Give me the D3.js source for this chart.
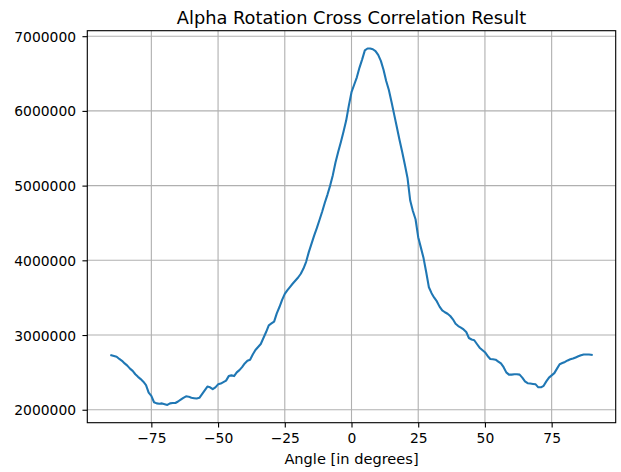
<!DOCTYPE html>
<html>
<head>
<meta charset="utf-8">
<script src="https://cdn.jsdelivr.net/npm/d3@7"></script>
<style>
  body { margin: 0; background: #fff; }
  text { font-family: "DejaVu Sans", sans-serif; fill: #000; }
</style>
</head>
<body>
<div id="chart"></div>
<script>
// angle (degrees) and cross correlation value
var angles = [-90,-89,-88,-87,-86,-85,-84,-83,-82,-81,
  -80,-79,-78,-77,-76,-75,-74,-73,-72,-71,
  -70,-69,-68,-67,-66,-65,-64,-63,-62,-61,
  -60,-59,-58,-57,-56,-55,-54,-53,-52,-51,
  -50,-49,-48,-47,-46,-45,-44,-43,-42,-41,
  -40,-39,-38,-37,-36,-35,-34,-33,-32,-31,
  -30,-29,-28,-27,-26,-25,-24,-23,-22,-21,
  -20,-19,-18,-17,-16,-15,-14,-13,-12,-11,
  -10,-9,-8,-7,-6,-5,-4,-3,-2,-1,
  0,1,2,3,4,5,6,7,8,9,
  10,11,12,13,14,15,16,17,18,19,
  20,21,22,23,24,25,26,27,28,29,
  30,31,32,33,34,35,36,37,38,39,
  40,41,42,43,44,45,46,47,48,49,
  50,51,52,53,54,55,56,57,58,59,
  60,61,62,63,64,65,66,67,68,69,
  70,71,72,73,74,75,76,77,78,79,
  80,81,82,83,84,85,86,87,88,89,90];
var correlation = [2730000,2720000,2710000,2680000,2655000,2620000,2590000,2550000,2520000,2475000,
  2440000,2410000,2375000,2330000,2230000,2185000,2100000,2085000,2080000,2085000,
  2075000,2065000,2085000,2090000,2090000,2110000,2135000,2160000,2180000,2175000,
  2160000,2155000,2150000,2160000,2210000,2260000,2310000,2300000,2275000,2300000,
  2340000,2350000,2370000,2390000,2450000,2460000,2450000,2500000,2530000,2570000,
  2620000,2655000,2670000,2740000,2800000,2840000,2880000,2960000,3040000,3130000,
  3155000,3180000,3290000,3375000,3470000,3550000,3600000,3645000,3690000,3730000,
  3770000,3820000,3890000,3980000,4110000,4220000,4330000,4430000,4540000,4650000,
  4770000,4880000,5000000,5140000,5310000,5450000,5580000,5720000,5870000,6070000,
  6250000,6350000,6450000,6580000,6690000,6810000,6835000,6835000,6825000,6800000,
  6750000,6670000,6550000,6400000,6280000,6120000,5950000,5780000,5610000,5450000,
  5280000,5100000,4800000,4660000,4550000,4310000,4170000,4030000,3840000,3640000,
  3560000,3500000,3450000,3380000,3330000,3305000,3285000,3255000,3210000,3150000,
  3120000,3100000,3075000,3040000,2960000,2940000,2930000,2880000,2830000,2800000,
  2770000,2720000,2680000,2675000,2670000,2645000,2620000,2570000,2500000,2470000,
  2470000,2475000,2475000,2470000,2430000,2380000,2355000,2350000,2345000,2340000,
  2300000,2300000,2320000,2380000,2430000,2460000,2490000,2550000,2610000,2625000,
  2640000,2660000,2675000,2685000,2700000,2715000,2730000,2740000,2740000,2740000,2735000];
var xTicks = [-75, -50, -25, 0, 25, 50, 75];
var yTicks = [2000000, 3000000, 4000000, 5000000, 6000000, 7000000];
var title = "Alpha Rotation Cross Correlation Result";
var xLabel = "Angle [in degrees]";

var W = 621, H = 472;
var pt = 100 / 72; // matplotlib points -> px at dpi 100
var margin = {top: 30.7, right: 5.3, bottom: 49.3, left: 87.3};
var w = W - margin.left - margin.right,
    h = H - margin.top - margin.bottom;

var data = angles.map(function(a, i) { return {a: a, v: correlation[i]}; });

// 5% padding like matplotlib autoscale
var xExt = d3.extent(angles), yExt = d3.extent(correlation);
var xPad = (xExt[1] - xExt[0]) * 0.05, yPad = (yExt[1] - yExt[0]) * 0.05;

var x = d3.scaleLinear().domain([xExt[0] - xPad, xExt[1] + xPad]).range([0, w]);
var y = d3.scaleLinear().domain([yExt[0] - yPad, yExt[1] + yPad]).range([h, 0]);

var svg = d3.select("#chart").append("svg")
    .attr("width", W)
    .attr("height", H);

var g = svg.append("g")
    .attr("transform", "translate(" + margin.left + "," + margin.top + ")");

// grid
g.append("g").selectAll("line").data(xTicks).enter().append("line")
    .attr("x1", function(d) { return x(d); }).attr("x2", function(d) { return x(d); })
    .attr("y1", 0).attr("y2", h)
    .attr("stroke", "#b0b0b0").attr("stroke-width", 0.8 * pt);
g.append("g").selectAll("line").data(yTicks).enter().append("line")
    .attr("y1", function(d) { return y(d); }).attr("y2", function(d) { return y(d); })
    .attr("x1", 0).attr("x2", w)
    .attr("stroke", "#b0b0b0").attr("stroke-width", 0.8 * pt);

// curve
var line = d3.line()
    .x(function(d) { return x(d.a); })
    .y(function(d) { return y(d.v); });

g.append("path")
    .datum(data)
    .attr("d", line)
    .attr("fill", "none")
    .attr("stroke", "#1f77b4")
    .attr("stroke-width", 1.5 * pt)
    .attr("stroke-linejoin", "round")
    .attr("stroke-linecap", "square");

// axes
var xAxis = g.append("g")
    .attr("transform", "translate(0," + h + ")")
    .call(d3.axisBottom(x).tickValues(xTicks).tickFormat(d3.format("d"))
        .tickSize(3.5 * pt).tickPadding(3.5 * pt));
var yAxis = g.append("g")
    .call(d3.axisLeft(y).tickValues(yTicks).tickFormat(d3.format("d"))
        .tickSize(3.5 * pt).tickPadding(3.5 * pt));

[xAxis, yAxis].forEach(function(ax) {
  ax.select(".domain").remove();
  ax.selectAll(".tick line").attr("stroke", "#000").attr("stroke-width", 0.8 * pt);
  ax.selectAll(".tick text")
      .attr("font-family", "DejaVu Sans")
      .attr("font-size", 10 * pt)
      .attr("fill", "#000");
});
xAxis.selectAll(".tick text").attr("dy", null).attr("y", 3.5 * pt * 2 + 10.6);
yAxis.selectAll(".tick text").attr("dy", "0.36em").attr("x", -3.5 * pt * 2 - 1.5);

// frame
g.append("rect")
    .attr("width", w).attr("height", h)
    .attr("fill", "none")
    .attr("stroke", "#000")
    .attr("stroke-width", 0.8 * pt);

// title and label
svg.append("text")
    .attr("x", margin.left + w / 2)
    .attr("y", 23.5)
    .attr("text-anchor", "middle")
    .attr("font-size", 17.8)
    .text(title);

svg.append("text")
    .attr("x", margin.left + w / 2)
    .attr("y", 464)
    .attr("text-anchor", "middle")
    .attr("font-size", 14.6)
    .text(xLabel);
</script>
</body>
</html>
